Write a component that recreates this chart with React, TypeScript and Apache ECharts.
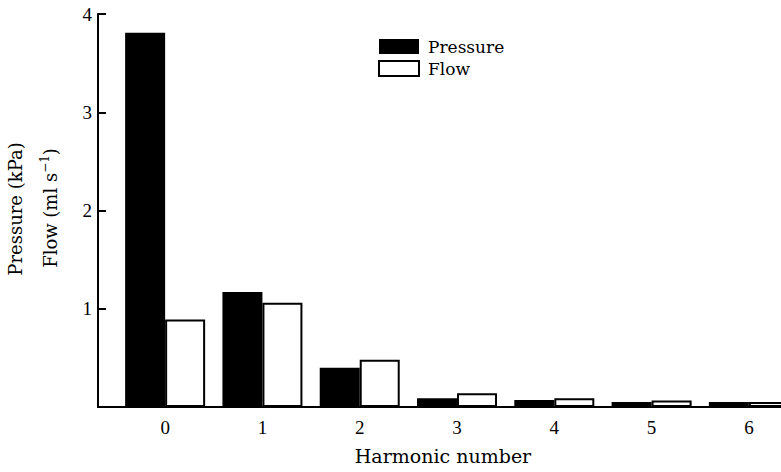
import React, { useEffect, useRef } from "react";
import * as echarts from "echarts";

// Harmonic number on the x axis
const harmonics = [0, 1, 2, 3, 4, 5, 6];
// Pressure amplitude per harmonic (kPa)
const pressure = [3.81, 1.17, 0.4, 0.09, 0.07, 0.05, 0.05];
// Flow amplitude per harmonic (ml s^-1)
const flow = [0.89, 1.06, 0.48, 0.14, 0.09, 0.065, 0.05];
// Y tick values
const yTicks = [1, 2, 3, 4];

const SERIF = "'DejaVu Serif', 'Liberation Serif', serif";
const DIGITS = "'Liberation Serif', serif";

export default function App() {
  const ref = useRef<HTMLDivElement>(null);

  useEffect(() => {
    if (!ref.current) return;
    const chart = echarts.init(ref.current, undefined, { renderer: "svg" });
    chart.setOption({
      animation: false,
      backgroundColor: "#ffffff",
      grid: { left: 98, right: 0, top: 14, bottom: 65 },
      legend: {
        orient: "vertical",
        left: 378,
        top: 38,
        padding: 0,
        itemWidth: 40,
        itemHeight: 15,
        itemGap: 5,
        icon: "rect",
        textStyle: { fontFamily: SERIF, fontSize: 17, color: "#000", padding: [0, 0, 0, 4] },
        data: ["Pressure", "Flow"],
      },
      xAxis: {
        type: "value",
        min: -0.69,
        max: 6.33,
        axisLine: { show: true, onZero: false, lineStyle: { color: "#000", width: 2 } },
        axisTick: { show: false },
        splitLine: { show: false },
        axisLabel: {
          customValues: harmonics,
          margin: 11,
          fontFamily: DIGITS,
          fontSize: 19,
          color: "#000",
        },
      },
      yAxis: {
        type: "value",
        min: 0,
        max: 4,
        interval: 1,
        axisLine: { show: true, onZero: false, lineStyle: { color: "#000", width: 2 } },
        axisTick: {
          show: true,
          inside: true,
          length: 8,
          lineStyle: { color: "#000", width: 2 },
        },
        splitLine: { show: false },
        axisLabel: {
          margin: 6,
          fontFamily: DIGITS,
          fontSize: 19,
          color: "#000",
          formatter: (v: number) => (yTicks.includes(v) ? String(v) : ""),
        },
      },
      graphic: [
        {
          type: "text",
          x: 15,
          y: 209,
          rotation: Math.PI / 2,
          style: {
            text: "Pressure (kPa)",
            fontFamily: SERIF,
            fontSize: 18,
            fill: "#000",
            align: "center",
            verticalAlign: "middle",
          },
        },
        {
          type: "text",
          x: 50,
          y: 208,
          rotation: Math.PI / 2,
          style: {
            text: "{n|Flow (ml s}{sup|−1}{n|)}",
            fontFamily: SERIF,
            fill: "#000",
            align: "center",
            verticalAlign: "middle",
            rich: {
              n: { fontFamily: SERIF, fontSize: 18, lineHeight: 22, fill: "#000" },
              sup: {
                fontFamily: SERIF,
                fontSize: 12,
                lineHeight: 12,
                verticalAlign: "top",
                fill: "#000",
              },
            },
          },
        },
        {
          type: "text",
          x: 443,
          y: 456,
          style: {
            text: "Harmonic number",
            fontFamily: SERIF,
            fontSize: 19,
            fill: "#000",
            align: "center",
            verticalAlign: "middle",
          },
        },
      ],
      series: [
        {
          name: "Pressure",
          type: "bar",
          barWidth: 40,
          barGap: "0%",
          itemStyle: { color: "#000" },
          data: harmonics.map((h, i) => [h, pressure[i]]),
        },
        {
          name: "Flow",
          type: "bar",
          barWidth: 40,
          barGap: "0%",
          itemStyle: { color: "#fff", borderColor: "#000", borderWidth: 2 },
          data: harmonics.map((h, i) => [h, flow[i]]),
        },
      ],
    });
    return () => chart.dispose();
  }, []);

  return (
    <div
      ref={ref}
      style={{ position: "absolute", left: 0, top: 0, width: 781, height: 472 }}
    />
  );
}
